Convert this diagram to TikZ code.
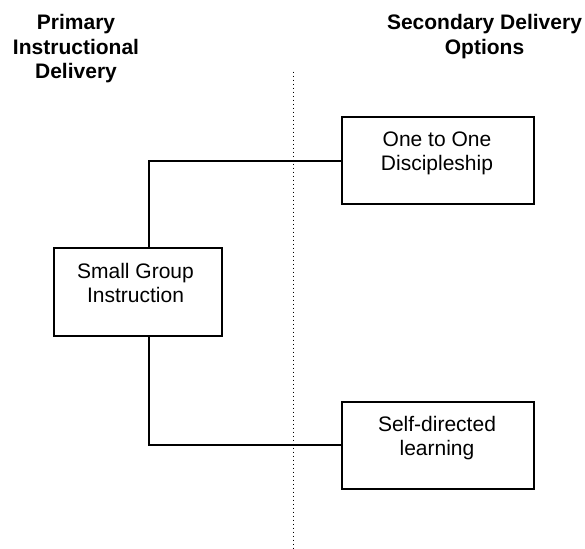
\documentclass[tikz,border=0pt]{standalone}
\usepackage{fontspec}
\setmainfont{Liberation Sans}
\begin{document}
\begin{tikzpicture}[x=1pt,y=-1pt,
  txt/.style={font=\fontsize{21}{24.5}\selectfont, align=center, inner sep=0pt, anchor=base},
  head/.style={txt, font=\fontsize{21}{24.5}\selectfont\bfseries},
  boxshape/.style={draw, line width=2pt, rectangle, inner sep=0pt, anchor=north west},
  link/.style={line width=2pt},
  divider/.style={line width=1.4pt, dash pattern=on 1.4pt off 2.6pt}
]
\useasboundingbox (0,0) rectangle (585,548);

% column headings (positioned by the baseline of their last line)
\node[head] (hprim) at (76,79) {Primary\\Instructional\\Delivery};
\node[head] (hsec) at (484.5,54.5) {Secondary Delivery\\Options};

% dividing line between the two columns
\coordinate (dtop) at (293.3,71.7);
\coordinate (dbot) at (293.3,548);
\draw[divider] (dtop) -- (dbot);

% boxes
\node[boxshape, minimum width=192pt, minimum height=87pt] (one) at (341,116) {};
\node[boxshape, minimum width=168pt, minimum height=88pt] (small) at (53,247) {};
\node[boxshape, minimum width=192pt, minimum height=87.5pt] (self) at (341,400.5) {};

% box labels (positioned by the baseline of their last line)
\node[txt] (onet) at (437,170.5) {One to One\\Discipleship};
\node[txt] (smallt) at (135.5,302.5) {Small Group\\Instruction};
\node[txt] (selft) at (437,455.5) {Self-directed\\learning};

% connectors
\coordinate (sgx) at (149,0);
\draw[link] (small.north -| sgx) |- (one.west);
\draw[link] (small.south -| sgx) |- (self.west);
\end{tikzpicture}
\end{document}
